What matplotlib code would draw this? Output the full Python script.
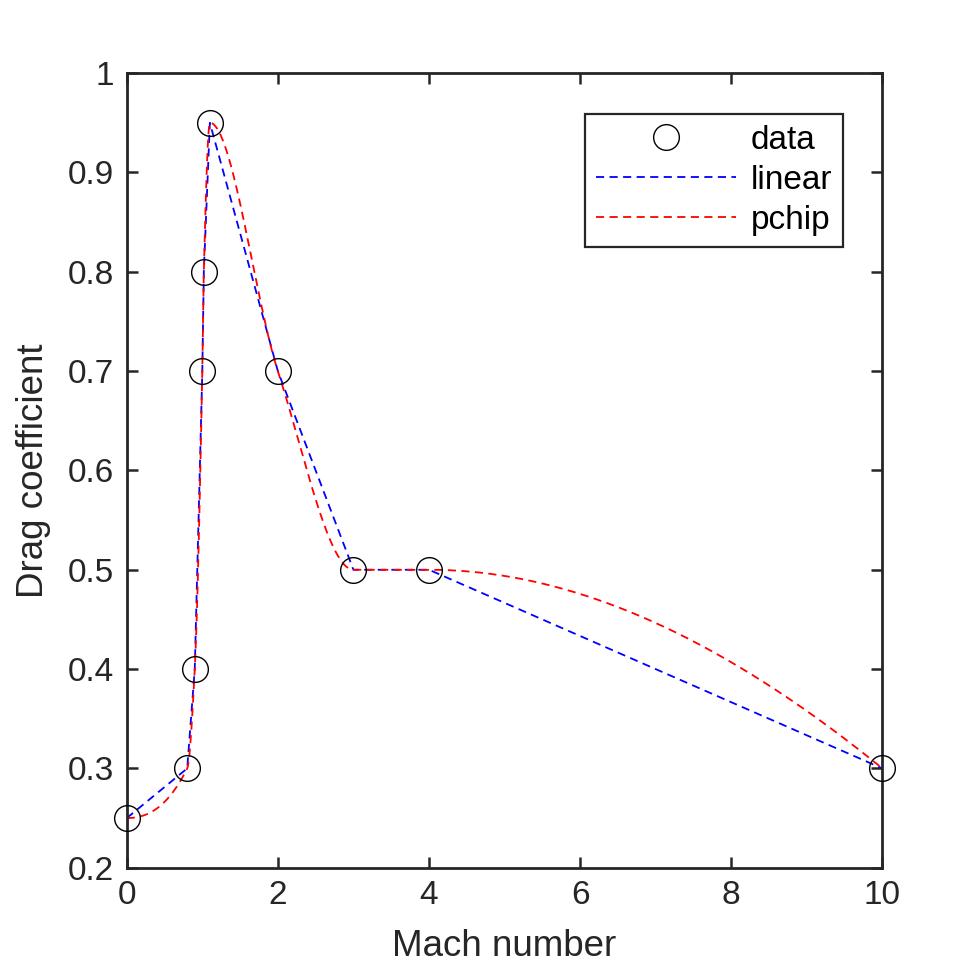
import numpy as np
import matplotlib
matplotlib.use("Agg")
import matplotlib.pyplot as plt

mach = np.array([0, 0.8, 0.9, 1.0, 1.02, 1.1, 2, 3, 4, 10])
drag = np.array([0.25, 0.3, 0.4, 0.7, 0.8, 0.95, 0.7, 0.5, 0.5, 0.3])
xticks = [0, 2, 4, 6, 8, 10]
yticks = [0.2, 0.3, 0.4, 0.5, 0.6, 0.7, 0.8, 0.9, 1.0]
yticklabels = ["0.2", "0.3", "0.4", "0.5", "0.6", "0.7", "0.8", "0.9", "1"]


def pchip_slopes(x, y):
    h = np.diff(x)
    delta = np.diff(y) / h
    n = len(x)
    d = np.zeros(n)
    for k in range(1, n - 1):
        if delta[k - 1] * delta[k] > 0:
            w1 = 2 * h[k] + h[k - 1]
            w2 = h[k] + 2 * h[k - 1]
            d[k] = (w1 + w2) / (w1 / delta[k - 1] + w2 / delta[k])

    def end_slope(h0, h1, del0, del1):
        s = ((2 * h0 + h1) * del0 - h0 * del1) / (h0 + h1)
        if np.sign(s) != np.sign(del0):
            s = 0.0
        elif np.sign(del0) != np.sign(del1) and abs(s) > abs(3 * del0):
            s = 3 * del0
        return s

    d[0] = end_slope(h[0], h[1], delta[0], delta[1])
    d[-1] = end_slope(h[-1], h[-2], delta[-1], delta[-2])
    return d


def pchip_eval(x, y, xq):
    d = pchip_slopes(x, y)
    idx = np.clip(np.searchsorted(x, xq, side="right") - 1, 0, len(x) - 2)
    h = x[idx + 1] - x[idx]
    t = (xq - x[idx]) / h
    h00 = 2 * t**3 - 3 * t**2 + 1
    h10 = t**3 - 2 * t**2 + t
    h01 = -2 * t**3 + 3 * t**2
    h11 = t**3 - t**2
    return h00 * y[idx] + h10 * h * d[idx] + h01 * y[idx + 1] + h11 * h * d[idx + 1]


xq = np.linspace(0, 10, 2001)
yq = pchip_eval(mach, drag, xq)

plt.rcParams['font.family'] = ['Liberation Sans', 'DejaVu Sans']
axcol = '#262626'

fig = plt.figure(figsize=(9.75, 9.75), dpi=100)
ax = fig.add_axes([0.13, 0.11, 0.775, 0.815])

ax.plot(mach, drag, 'o', mfc='none', mec='black', ms=18.5, mew=1.0,
        label='data', clip_on=False, zorder=4)
ax.plot(mach, drag, '--', color='blue', lw=1.3, dashes=(4.5, 3), label='linear')
ax.plot(xq, yq, '--', color='red', lw=1.3, dashes=(4.5, 3), label='pchip')

ax.set_xlim(0, 10)
ax.set_ylim(0.2, 1.0)
ax.set_xticks(xticks)
ax.set_yticks(yticks)
ax.set_yticklabels(yticklabels)
ax.tick_params(direction='in', length=8, width=1.8, top=True, right=True,
               labelsize=24, colors=axcol, pad=9)
for sp in ax.spines.values():
    sp.set_linewidth(2.0)
    sp.set_color(axcol)

ax.set_xlabel('Mach number', fontsize=26.5, color=axcol, labelpad=13)
ax.set_ylabel('Drag coefficient', fontsize=26.5, color=axcol, labelpad=12)

leg = ax.legend(loc='upper right', bbox_to_anchor=(0.948, 0.9485), fontsize=24,
                borderaxespad=0, fancybox=False, framealpha=1, edgecolor=axcol,
                handlelength=4.2, borderpad=0.33, labelspacing=0.27,
                handletextpad=0.45)
leg.get_frame().set_linewidth(1.6)

fig.savefig('out.png', dpi=100)
